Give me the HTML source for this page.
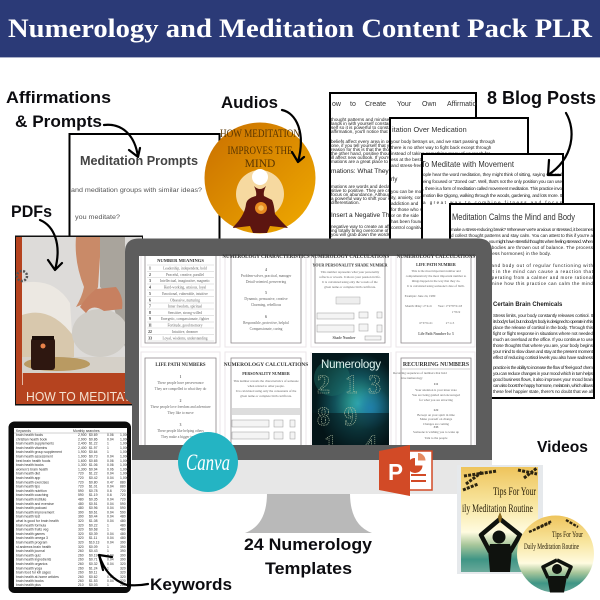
<!DOCTYPE html>
<html><head><meta charset="utf-8"><style>
html,body{margin:0;padding:0;background:#fff}
svg{display:block}
.s{font-family:"Liberation Sans",sans-serif}
.l{font-family:"Liberation Sans",sans-serif;font-weight:700;fill:#0c0c10}
.f{font-family:"Liberation Serif",serif}
.p{font-family:"Liberation Sans",sans-serif;font-size:4.6px;fill:#222}
.h{font-family:"Liberation Serif",serif;font-weight:700;fill:#333;text-anchor:middle}
.t{font-family:"Liberation Serif",serif;font-size:3.6px;fill:#666;text-anchor:middle}
.u{font-size:3.2px}
.k tspan{font-family:"Liberation Sans",sans-serif}
.a{fill:none;stroke:#000;stroke-width:2.2;stroke-linecap:round;stroke-linejoin:round}
.c{fill:none;stroke:#8a8488;stroke-width:.8}
.b{fill:none;stroke:#2c2410;stroke-width:3;stroke-dasharray:3 1.2}
</style></head><body>
<svg xmlns="http://www.w3.org/2000/svg" width="600" height="600" viewBox="0 0 600 600">
<defs>
<linearGradient id="disc" x1="0" y1="0" x2="1" y2="1"><stop offset="0" stop-color="#c96f00"/><stop offset="1" stop-color="#f0ab00"/></linearGradient>
<linearGradient id="cov" x1="0" y1="0" x2="0" y2="1"><stop offset="0" stop-color="#eec45c"/><stop offset=".35" stop-color="#f8e6a0"/><stop offset=".62" stop-color="#fffbe0"/><stop offset=".74" stop-color="#a9c79b"/><stop offset=".88" stop-color="#3f9585"/><stop offset="1" stop-color="#6aa99a"/></linearGradient>
<radialGradient id="neb" cx=".6" cy=".55" r=".55"><stop offset="0" stop-color="#35b5a8"/><stop offset=".55" stop-color="#11515a"/><stop offset="1" stop-color="#04181c"/></radialGradient>
<radialGradient id="neb2" cx=".5" cy=".5" r=".5"><stop offset="0" stop-color="#1f7fb5" stop-opacity=".8"/><stop offset="1" stop-color="#1f7fb5" stop-opacity="0"/></radialGradient>
</defs>

<rect width="600" height="57" fill="#2b3a77"/>
<rect y="57" width="600" height="1" fill="#aab0c8"/>
<text x="8" y="37" class="f" font-weight="700" font-size="26" fill="#fff" textLength="584" lengthAdjust="spacingAndGlyphs">Numerology and Meditation Content Pack  PLR</text>

<rect x="69.500" y="134" width="150" height="110" fill="#fff" stroke="#000" stroke-width="2"/>
<text x="80" y="165" class="s" font-weight="700" font-size="13" fill="#444" textLength="118" lengthAdjust="spacingAndGlyphs">Meditation Prompts</text>
<text x="71" y="192" class="s" font-size="6.600" fill="#555" textLength="131" lengthAdjust="spacingAndGlyphs">and meditation groups with similar ideas?</text>
<text x="75" y="219" class="s" font-size="6.600" fill="#555" textLength="45" lengthAdjust="spacingAndGlyphs">you meditate?</text>

<svg x="329" y="92" width="148" height="160"><rect x="1" y="1" width="146" height="170" fill="#fff" stroke="#000" stroke-width="2"/>
<g class="s" font-size="7" fill="#333"><text x="3" y="14">ow</text><text x="21" y="14">to</text><text x="36" y="14">Create</text><text x="68" y="14">Your</text><text x="93" y="14">Own</text><text x="118" y="14">Affirmations</text></g>
<g class="p"><text x="2" y="29">thought patterns and mindset are</text><text x="2" y="33">lands in with yourself constantly</text><text x="2" y="37">self so it is powerful to constantly</text><text x="2" y="41">affirmation, you'll notice that your</text><text x="2" y="51">beliefs affect every area in our lives</text><text x="2" y="55">one, if you tell yourself that you</text><text x="2" y="59">reason for this is that the thought</text><text x="2" y="63">the other hand, positive thoughts</text><text x="2" y="67">ill affect new outlook. If you're</text><text x="2" y="71">mations are a great place to start</text>
<text x="2" y="81" font-size="6.500">mations: What They Ar</text><text x="2" y="96">mations are words and declarations</text><text x="2" y="100">sitive to positive. They are created</text><text x="2" y="104">focus on abundance. Although not</text><text x="2" y="108">a powerful way to shift your state</text><text x="2" y="112">differentiation.</text>
<text x="2" y="125" font-size="6.500">Insert a Negative Thought to</text><text x="2" y="136">negative way to create an affirmation</text><text x="2" y="140">ing totally bring overcome of creating</text><text x="2" y="144">you will grab down the words</text></g></svg>

<svg x="389" y="117" width="140" height="130"><rect x="1" y="1" width="138" height="150" fill="#fff" stroke="#000" stroke-width="2"/>
<text x="3" y="15" class="s" font-size="7.300" fill="#333">itation Over Medication</text>
<g class="p"><text x="2" y="26">your body betrays us, and we start passing through</text><text x="2" y="32">there is no other way to fight back except through</text><text x="2" y="38">instead of taking something many of us reach for</text><text x="2" y="44">ess at the best times, leaving us with little choice</text><text x="2" y="50">and stress-free life is possible for everyone.</text>
<text x="2" y="64" font-size="6">rly</text><text x="2" y="76">you can be more relaxed</text><text x="2" y="82">ity, anxiety, concentration</text><text x="2" y="88">addiction and</text><text x="2" y="94">for those who suffer</text><text x="2" y="100">or on the side</text><text x="2" y="106">has been found</text><text x="2" y="112">control cognitive</text></g></svg>

<svg x="421" y="153" width="143" height="90"><rect x="1" y="1" width="141" height="110" fill="#fff" stroke="#000" stroke-width="2"/>
<text x="0" y="14" class="s" font-size="8.400" fill="#333" textLength="93" lengthAdjust="spacingAndGlyphs">To Meditate with Movement</text>
<g class="p"><text x="2" y="23" textLength="139">ople hear the word meditation, they might think of sitting, saying Om and</text><text x="2" y="30" textLength="139">eing focused or "Zoned out". Well, that's not the only position you can use</text><text x="2" y="37" textLength="139">, there is a form of meditation called movement meditation. This practice invo</text><text x="2" y="44" textLength="139">motion like Qigong, walking through the woods, gardening, and lots more. It</text><text x="2" y="51" textLength="139">a great way to combine fitness and focus</text></g></svg>

<svg x="449" y="203" width="146" height="196"><rect x="1" y="1" width="144" height="194" fill="#fff" stroke="#000" stroke-width="2"/>
<text x="3" y="17" class="s" font-size="8.800" fill="#333" textLength="123" lengthAdjust="spacingAndGlyphs">Meditation Calms the Mind and Body</text>
<g class="p"><text x="2" y="28" textLength="142">make a stress-reducing break? Whenever we're anxious or stressed, it becomes</text><text x="2" y="34" textLength="142">d collect thought patterns and stay calm. You can attest to this if you're a</text><text x="2" y="40" textLength="142">ng offered the practice, you might have stressful thoughts when feeling stressed. When</text><text x="2" y="46" textLength="142">hypertension, and bodies are thrown out of balance. The process</text><text x="2" y="52" textLength="100">set (the primary stress hormones) in the body.</text>
<text x="2" y="64" textLength="142">rock your brain and body out of regular functioning with</text><text x="2" y="70" textLength="142">nfusions thought in the mind can cause a reaction that</text><text x="2" y="76" textLength="142">u want to start operating from a calmer and more rational</text><text x="2" y="82" textLength="142">adopt. Let's examine how this practice can calm the mind</text>
<text x="44" y="103" font-size="6" font-weight="700">Certain Brain Chemicals</text>
<text x="44" y="114" textLength="100">Stress limits, your body constantly releases cortisol. It</text><text x="44" y="120" textLength="100">its body's fuel, but nobody's body is designed to operate in this</text><text x="44" y="126" textLength="100">place the release of cortisol in the body. Through this</text><text x="44" y="132" textLength="100">fight or flight response in situations where not needed</text><text x="44" y="138" textLength="100">much as overload at the office. If you continue to use</text><text x="44" y="144" textLength="100">those thoughts that where you are, your body begins</text><text x="44" y="150" textLength="100">your mind to slow down and stay at the present moment</text><text x="44" y="156" textLength="100">effect of reducing cortisol levels you also have sadness</text>
<text x="44" y="166" textLength="100">practice is the ability to increase the flow of 'feel-good' chem</text><text x="44" y="172" textLength="100">you can reduce changes in your mood which in turn helps</text><text x="44" y="178" textLength="100">good business flows, it also improves your mood brain</text><text x="44" y="184" textLength="100">can also boost the happy hormone, melatonin, which allows</text><text x="44" y="190" textLength="100">these feel happier state, there's no doubt that we all</text></g></svg>

<circle cx="260" cy="178" r="55.500" fill="url(#disc)"/>
<circle cx="260" cy="194" r="24" fill="#f6d9a0"/>
<circle cx="260" cy="177" r="8" fill="#fff"/>
<path d="M254 186 Q257 192 256 196 Q247 198 246 204 Q245 214 236 224 Q233 227 233 228 L250 226 L253 233 L267 233 L270 226 L288 228 Q280 220 275 214 Q274 204 272 200 Q266 197 264 196 Q263 192 266 186 Q260 192 254 186Z" fill="#5c1510"/>
<circle cx="261" cy="208" r="6" fill="#e88a20"/><circle cx="261" cy="208" r="2.800" fill="#f6c060"/>
<g class="f" font-size="11.500" fill="#5a3600" text-anchor="middle">
<text x="260" y="137" textLength="80" lengthAdjust="spacingAndGlyphs">HOW MEDITATION</text>
<text x="260" y="154" textLength="65" lengthAdjust="spacingAndGlyphs">IMPROVES THE</text>
<text x="260" y="167">MIND</text></g>

<rect x="15" y="235.500" width="128" height="170" fill="#111"/>
<svg x="16" y="237" width="126" height="167">
<rect width="126" height="167" fill="#dddbd9"/>
<rect x="0" width="6" height="167" fill="#b5431f"/>
<path d="M6 46 Q38 40 54 66 L56 96 L6 80Z" fill="#ece8e2"/>
<path d="M6 78 Q35 68 58 100 L58 122 L6 128Z" fill="#d8c8ad"/>
<path d="M84 0 L109 0 L109 110 L95 60 L84 50Z" fill="#a9a49c"/>
<path d="M60 0 L84 0 L84 20 L82 50 L78 60 L72 65 L60 70 Q66 60 68 50 Q58 25 60 0Z" fill="#c98a68"/>
<ellipse cx="84" cy="96" rx="28" ry="24" fill="#cfccc6"/>
<path d="M64 70 Q70 60 80 52 L100 50 Q108 60 106 72 L88 74 Q76 66 70 76Z" fill="#c78060"/>
<rect x="6" y="120" width="120" height="16" fill="#d5d0c8"/>
<ellipse cx="41" cy="127" rx="33" ry="7" fill="#b99a62"/>
<rect x="15" y="101" width="24" height="32" rx="3" fill="#2e1710"/>
<rect x="16" y="99" width="22" height="4" fill="#1c0f0a"/>
<circle cx="27" cy="109" r="2.500" fill="#e9824a"/>
<rect x="6" y="136" width="120" height="31" fill="#b5431f"/>
<rect x="6" y="136" width=".8" height="12" fill="#f0d8c8"/>
<text x="10" y="164" class="s" font-size="13" fill="#f5e2d0" textLength="113" lengthAdjust="spacingAndGlyphs">HOW TO MEDITATE</text>
</svg>
<circle cx="22" cy="276" r="5" fill="none" stroke="#555" stroke-width="2.500" stroke-dasharray="2 1.500"/>

<path d="M267 493 L350 493 Q350 525 372 533 L245 533 Q267 525 267 493Z" fill="#b9b9b9"/>
<path d="M125 252 Q125 238.500 139 238.500 L478 238.500 Q492 238.500 492 252 L492 460 L132 460 L132 404 L125 398Z" fill="#5d5d5d"/>
<rect x="132" y="460" width="360" height="34" fill="#e7e7e7"/>
<rect x="139" y="256" width="337" height="189" fill="#fff"/>
<g stroke="#ebe6e8" stroke-width="1" fill="none">
<path d="M141 256V347H220V256M225 256V347H306V256M311 256V347H391V256M396 256V347H475V256"/>
<path d="M141 445V352H220V445M225 445V352H306V445M311 445V352M391 445V352M396 445V352H475V445"/>
</g>

<path class="c" d="M145 256V343H216V256"/>
<text x="180.500" y="262" class="h" font-size="4.600">NUMBER MEANINGS</text>
<g stroke="#bbb" stroke-width=".4"><path d="M147 265H214M147 271.500H214M147 277.500H214M147 284H214M147 290H214M147 296.500H214M147 303H214M147 309H214M147 315.500H214M147 322H214M147 328H214M147 334.500H214M147 341H214"/></g>
<g class="t">
<text x="185" y="269.500">Leadership, independent, bold</text><text x="185" y="276">Peaceful, creative, parallel</text><text x="185" y="282">Intellectual, imaginative, magnetic</text><text x="185" y="288.500">Hard-working, anxious, loyal</text><text x="185" y="295">Emotional, vulnerable, intuitive</text><text x="185" y="301.500">Obsessive, nurturing</text><text x="185" y="307.500">Inner freedom, spiritual</text><text x="185" y="314">Sensitive, strong-willed</text><text x="185" y="320">Energetic, compassionate, fighter</text><text x="185" y="326.500">Fortitude, good memory</text><text x="185" y="333">Intuitive, dreamer</text><text x="185" y="339.500">Loyal, wisdoms, understanding</text>
</g>
<g font-family="Liberation Serif" font-weight="700" font-size="3.800" fill="#333" text-anchor="middle"><text x="150" y="269.500">1</text><text x="150" y="276">2</text><text x="150" y="282">3</text><text x="150" y="288.500">4</text><text x="150" y="295">5</text><text x="150" y="301.500">6</text><text x="150" y="307.500">7</text><text x="150" y="314">8</text><text x="150" y="320">9</text><text x="150" y="326.500">11</text><text x="150" y="333">22</text><text x="150" y="339.500">33</text></g>

<path class="c" d="M231 256V343H301V256"/>
<text x="266" y="258" class="h" font-size="5">NUMEROLOGY CHARACTERISTICS</text>
<g class="t"><text x="266" y="271" font-weight="700">4</text><text x="266" y="277">Problem-solver, practical, manager</text><text x="266" y="283">Detail-oriented, persevering</text><text x="266" y="294" font-weight="700">5</text><text x="266" y="300">Dynamic, persuasive, creative</text><text x="266" y="306">Charming, rebellious</text><text x="266" y="318" font-weight="700">6</text><text x="266" y="324">Responsible, protective, helpful</text><text x="266" y="330">Compassionate, caring</text></g>

<path class="c" d="M315 256V343H385V256"/>
<text x="350" y="258" class="h" font-size="5">NUMEROLOGY CALCULATIONS</text>
<text x="350" y="266.500" class="h" font-size="4">YOUR PERSONALITY SHADE NUMBER</text>
<g class="t u"><text class="t u" x="350" y="273">This number represents what your personality</text><text class="t u" x="350" y="278">reflects or reveals. It shows your passion in life.</text><text class="t u" x="350" y="283">It is calculated using only the vowels of the</text><text class="t u" x="350" y="288">given name or complete birth certificate.</text></g>
<rect x="336" y="297" width="24" height="7" fill="#eee" stroke="#999" stroke-width=".4"/>
<g fill="#f4f4f4" stroke="#999" stroke-width=".5"><rect x="317" y="313" width="37" height="6"/><rect x="359" y="312" width="9" height="6"/><rect x="377" y="312" width="5" height="6"/><rect x="317" y="325" width="37" height="7"/><rect x="359" y="324" width="9" height="7"/><rect x="377" y="325" width="5" height="7"/><rect x="365" y="336" width="16" height="4"/></g>
<text x="344" y="339" class="t" font-weight="700">Shade Number</text>

<path class="c" d="M401 256V343H471V256"/>
<text x="436" y="258" class="h" font-size="5">NUMEROLOGY CALCULATIONS</text>
<text x="436" y="266" class="h" font-size="4">LIFE PATH NUMBER</text>
<g><text class="t u" x="436" y="272">This is the most important number and</text><text class="t u" x="436" y="277">comprehensively the most important number to</text><text class="t u" x="436" y="282">things happen in the way that they do.</text><text class="t u" x="436" y="287">It is calculated using someone's date of birth.</text>
<text class="t u" x="420" y="297">Example: June 24, 1980</text><text class="t u" x="411" y="307">Month: 6</text><text class="t u" x="424" y="307">Day: 2+4=6</text><text class="t u" x="450" y="307">Year: 1+9+8+0=18</text><text class="t u" x="456" y="313">1+8=9</text><text class="t u" x="426" y="324">6+6+9=21</text><text class="t u" x="450" y="324">2+1=3</text></g>
<text x="436" y="335" class="t" font-weight="700">Life Path Number Is: 3</text>

<path class="c" d="M145 445V358H216V445"/>
<text x="180.500" y="366" class="h" font-size="4.800">LIFE PATH NUMBERS</text>
<g class="t"><text x="180.500" y="378" font-weight="700">1</text><text x="180.500" y="384">These people have perseverance</text><text x="180.500" y="390">They are compelled to what they do</text><text x="180.500" y="402" font-weight="700">2</text><text x="180.500" y="408">These people love freedom and adventure</text><text x="180.500" y="414">They like to move</text><text x="180.500" y="426" font-weight="700">3</text><text x="180.500" y="432">These people like helping others</text><text x="180.500" y="438">They make a bigger impact</text></g>

<path class="c" d="M231 445V358H301V445"/>
<text x="266" y="366" class="h" font-size="5.400">NUMEROLOGY CALCULATIONS</text>
<text x="266" y="375" class="h" font-size="4">PERSONALITY NUMBER</text>
<g><text class="t u" x="266" y="382">This number reveals the characteristics of someone</text><text class="t u" x="266" y="387">when related to other people.</text><text class="t u" x="266" y="392">It is calculated using only the consonants of the</text><text class="t u" x="266" y="397">given name or complete birth certificate.</text></g>
<rect x="232" y="408" width="68" height="7" fill="#ddd"/>
<g fill="#f4f4f4" stroke="#999" stroke-width=".5"><rect x="232" y="420" width="37" height="7"/><rect x="274" y="420" width="9" height="7"/><rect x="290" y="420" width="5" height="7"/><rect x="232" y="432" width="37" height="7"/><rect x="274" y="432" width="9" height="7"/><rect x="290" y="432" width="5" height="7"/></g>

<svg x="312" y="353" width="77" height="92"><rect width="77" height="92" fill="url(#neb)"/><circle cx="58" cy="55" r="22" fill="url(#neb2)"/><circle cx="20" cy="25" r="18" fill="#1c6f66" opacity=".45"/><rect y="60" width="77" height="32" fill="#041012" opacity=".5"/>
<text x="9" y="15" font-family="Liberation Sans" font-size="11.500" fill="#dff3ef" textLength="60">Numerology</text>
<g font-family="Liberation Serif" font-weight="700" fill="none" stroke="#b8c8a8" stroke-width=".6" stroke-dasharray="1.200 .8" font-size="26"><text x="5" y="40">2</text><text x="33" y="40">1</text><text x="56" y="40">3</text><text x="5" y="72">8</text><text x="32" y="72">9</text><text x="12" y="100">1</text><text x="52" y="100">4</text></g></svg>

<path class="c" d="M401 445V358H471V445"/>
<text x="436" y="366" class="h" font-size="5.800">RECURRING NUMBERS</text>
<path d="M402 369H470" stroke="#999" stroke-width=".5"/>
<g><text class="t u" x="420" y="374">Recurring sequences of numbers that hold</text><text class="t u" x="412" y="379">true numerology</text><text class="t u" x="436" y="385" font-weight="700">111</text><text class="t u" x="436" y="391">Your attention is your inner state</text><text class="t u" x="436" y="396">You are being guided and encouraged</text><text class="t u" x="436" y="401">for what you are attracting</text><text class="t u" x="436" y="411" font-weight="700">222</text><text class="t u" x="436" y="416">Be kept on your spirit in time</text><text class="t u" x="436" y="420">Make yourself on change</text><text class="t u" x="436" y="425">Changes are coming</text><text class="t u" x="436" y="428" font-weight="700">333</text><text class="t u" x="436" y="433">Someone is wishing you to wake up</text><text class="t u" x="436" y="439">Talk to the people</text></g>

<circle cx="208" cy="462" r="30" fill="#24b4c3"/>
<text x="208" y="470" class="f" font-style="italic" font-size="23" fill="#fff" text-anchor="middle" textLength="44" lengthAdjust="spacingAndGlyphs">Canva</text>

<rect x="409" y="451" width="23" height="39" fill="#fff" stroke="#d24a26" stroke-width="1.500"/>
<path d="M415 458a7.500 7.500 0 1 0 7.500 7.500h-7.500z" fill="#d24a26"/>
<path d="M418 453a7.500 7.500 0 0 1 7.500 7.500h-7.500z" fill="#e58a60"/>
<rect x="411" y="474" width="15" height="2" fill="#d24a26"/><rect x="411" y="480" width="15" height="2" fill="#d24a26"/>
<path d="M379 451 L410 445 L410 496 L379 490Z" fill="#d24a26"/>
<text x="388" y="480" class="s" font-weight="700" font-size="23" fill="#fff" textLength="15" lengthAdjust="spacingAndGlyphs">P</text>

<rect x="457" y="465" width="86" height="109" fill="#e6e9ec"/>
<rect x="461" y="467" width="77" height="105" fill="url(#cov)"/>
<path class="b" d="M464 476 L497 471 M466 484 L482 472 M463 490 L478 484 M518 470 L537 474 M524 478 L537 468"/>
<text x="493" y="495" class="f" font-size="11.500" fill="#2a2008" textLength="43" lengthAdjust="spacingAndGlyphs">Tips For Your</text>
<text x="462" y="512" class="f" font-size="11.500" fill="#2a2008" textLength="71" lengthAdjust="spacingAndGlyphs">ily Meditation Routine</text>
<path d="M500 519 L481 535 L490 552 M500 519 L520 535 L510 552" fill="none" stroke="#0f120e" stroke-width="4.500" stroke-linejoin="round"/>
<path d="M498 517 L500 512 L502 517 L501 522 L499 522Z" fill="#8a6a20"/>
<circle cx="499" cy="537" r="6.500" fill="#0f120e"/>
<path d="M488 549 L512 549 L510 572 L490 572Z" fill="#0f120e"/>
<path d="M490 544 L510 544 L512 552 L488 552Z" fill="#0f120e"/>
<circle cx="555.500" cy="554" r="38.500" fill="url(#cov)"/>
<path class="b" d="M529 532 L550 523 M537 528 L552 521 M566 520 L578 527" style="stroke-width:2.400"/>
<text x="552" y="537" class="f" font-size="8" fill="#2a2008" textLength="31" lengthAdjust="spacingAndGlyphs">Tips For Your</text>
<text x="524" y="549" class="f" font-size="8" fill="#2a2008" textLength="55" lengthAdjust="spacingAndGlyphs">Daily Meditation Routine</text>
<path d="M557 560 L543 567 L548 578 M557 560 L571 567 L566 578" fill="none" stroke="#0f120e" stroke-width="3.500" stroke-linejoin="round"/>
<circle cx="557" cy="569" r="5" fill="#0f120e"/>
<path d="M547 576 L567 576 L564 592.500 L550 592.500Z" fill="#0f120e"/>
<text x="537" y="452" class="l" font-size="15.500" fill="#1a1a24" textLength="51" lengthAdjust="spacingAndGlyphs">Videos</text>

<rect x="8.500" y="421.500" width="122.500" height="171.500" rx="6" fill="#0b0b0b"/>
<rect x="14" y="428" width="113" height="159" fill="#fff"/>
<path d="M14 433H127" stroke="#888" stroke-width=".4"/>
<g class="k" font-size="3.400" fill="#333">
<text y="432"><tspan x="16">Keywords</tspan><tspan x="73">Monthly searches</tspan></text>
<text y="436"><tspan x="16">brain health foods</tspan><tspan x="78">2,900</tspan><tspan x="89">$0.69</tspan><tspan x="107">0.06</tspan><tspan x="120">1,000</tspan></text>
<text y="440.300"><tspan x="16">christian health book</tspan><tspan x="78">2,900</tspan><tspan x="89">$0.86</tspan><tspan x="107">0.04</tspan><tspan x="120">1,000</tspan></text>
<text y="444.600"><tspan x="16">brain health supplements</tspan><tspan x="78">2,400</tspan><tspan x="89">$1.22</tspan><tspan x="107">1</tspan><tspan x="120">1,000</tspan></text>
<text y="448.900"><tspan x="16">brain health vitamins</tspan><tspan x="78">2,400</tspan><tspan x="89">$1.97</tspan><tspan x="107">1</tspan><tspan x="120">1,000</tspan></text>
<text y="453.200"><tspan x="16">brain health group supplement</tspan><tspan x="78">1,900</tspan><tspan x="89">$0.64</tspan><tspan x="107">1</tspan><tspan x="120">1,000</tspan></text>
<text y="457.500"><tspan x="16">brain health assessment</tspan><tspan x="78">1,900</tspan><tspan x="89">$0.73</tspan><tspan x="107">0.04</tspan><tspan x="120">1,000</tspan></text>
<text y="461.800"><tspan x="16">best brain health foods</tspan><tspan x="78">1,600</tspan><tspan x="89">$0.65</tspan><tspan x="107">0.06</tspan><tspan x="120">1,000</tspan></text>
<text y="466.100"><tspan x="16">brain health books</tspan><tspan x="78">1,300</tspan><tspan x="89">$1.06</tspan><tspan x="107">0.06</tspan><tspan x="120">1,000</tspan></text>
<text y="470.400"><tspan x="16">women's brain health</tspan><tspan x="78">1,300</tspan><tspan x="89">$0.94</tspan><tspan x="107">0.06</tspan><tspan x="120">1,000</tspan></text>
<text y="474.700"><tspan x="16">brain health diet</tspan><tspan x="78">720</tspan><tspan x="89">$1.22</tspan><tspan x="107">0.04</tspan><tspan x="120">1,000</tspan></text>
<text y="479"><tspan x="16">brain health app</tspan><tspan x="78">720</tspan><tspan x="89">$0.42</tspan><tspan x="107">0.04</tspan><tspan x="120">1,000</tspan></text>
<text y="483.300"><tspan x="16">brain health exercises</tspan><tspan x="78">720</tspan><tspan x="89">$0.80</tspan><tspan x="107">0.47</tspan><tspan x="120">880</tspan></text>
<text y="487.600"><tspan x="16">brain health tips</tspan><tspan x="78">720</tspan><tspan x="89">$1.01</tspan><tspan x="107">0.04</tspan><tspan x="120">880</tspan></text>
<text y="491.900"><tspan x="16">brain health nutrition</tspan><tspan x="78">590</tspan><tspan x="89">$0.78</tspan><tspan x="107">0.6</tspan><tspan x="120">720</tspan></text>
<text y="496.200"><tspan x="16">brain health coaching</tspan><tspan x="78">590</tspan><tspan x="89">$1.19</tspan><tspan x="107">0.6</tspan><tspan x="120">720</tspan></text>
<text y="500.500"><tspan x="16">brain health institute</tspan><tspan x="78">480</tspan><tspan x="89">$0.35</tspan><tspan x="107">0.04</tspan><tspan x="120">720</tspan></text>
<text y="504.800"><tspan x="16">brain health and exercise</tspan><tspan x="78">480</tspan><tspan x="89">$0.51</tspan><tspan x="107">0.04</tspan><tspan x="120">590</tspan></text>
<text y="509.100"><tspan x="16">brain health podcast</tspan><tspan x="78">480</tspan><tspan x="89">$0.96</tspan><tspan x="107">0.04</tspan><tspan x="120">590</tspan></text>
<text y="513.400"><tspan x="16">brain health improvement</tspan><tspan x="78">390</tspan><tspan x="89">$0.61</tspan><tspan x="107">0.04</tspan><tspan x="120">590</tspan></text>
<text y="517.700"><tspan x="16">brain health test</tspan><tspan x="78">390</tspan><tspan x="89">$0.44</tspan><tspan x="107">0.04</tspan><tspan x="120">480</tspan></text>
<text y="522"><tspan x="16">what is good for brain health</tspan><tspan x="78">320</tspan><tspan x="89">$1.08</tspan><tspan x="107">0.04</tspan><tspan x="120">480</tspan></text>
<text y="526.300"><tspan x="16">brain health formula</tspan><tspan x="78">320</tspan><tspan x="89">$0.22</tspan><tspan x="107">1</tspan><tspan x="120">480</tspan></text>
<text y="530.600"><tspan x="16">brain health fruits veg</tspan><tspan x="78">320</tspan><tspan x="89">$0.68</tspan><tspan x="107">1</tspan><tspan x="120">480</tspan></text>
<text y="534.900"><tspan x="16">brain health games</tspan><tspan x="78">320</tspan><tspan x="89">$0.39</tspan><tspan x="107">0.04</tspan><tspan x="120">480</tspan></text>
<text y="539.200"><tspan x="16">brain health omega 3</tspan><tspan x="78">320</tspan><tspan x="89">$1.11</tspan><tspan x="107">0.04</tspan><tspan x="120">480</tspan></text>
<text y="543.500"><tspan x="16">brain health program</tspan><tspan x="78">320</tspan><tspan x="89">$10.13</tspan><tspan x="107">0.04</tspan><tspan x="120">390</tspan></text>
<text y="547.800"><tspan x="16">st andrews brain health</tspan><tspan x="78">320</tspan><tspan x="89">$0.09</tspan><tspan x="107">1</tspan><tspan x="120">390</tspan></text>
<text y="552.100"><tspan x="16">brain health journal</tspan><tspan x="78">260</tspan><tspan x="89">$0.43</tspan><tspan x="107">1</tspan><tspan x="120">390</tspan></text>
<text y="556.400"><tspan x="16">brain health quiz</tspan><tspan x="78">260</tspan><tspan x="89">$0.19</tspan><tspan x="107">0.04</tspan><tspan x="120">390</tspan></text>
<text y="560.700"><tspan x="16">brain health ingredients</tspan><tspan x="78">260</tspan><tspan x="89">$0.71</tspan><tspan x="107">0.04</tspan><tspan x="120">390</tspan></text>
<text y="565"><tspan x="16">brain health organics</tspan><tspan x="78">260</tspan><tspan x="89">$0.32</tspan><tspan x="107">0.04</tspan><tspan x="120">320</tspan></text>
<text y="569.300"><tspan x="16">brain health yoga</tspan><tspan x="78">260</tspan><tspan x="89">$1.24</tspan><tspan x="107">1</tspan><tspan x="120">320</tspan></text>
<text y="573.600"><tspan x="16">brain food for kill cages</tspan><tspan x="78">260</tspan><tspan x="89">$0.11</tspan><tspan x="107">1</tspan><tspan x="120">320</tspan></text>
<text y="577.900"><tspan x="16">brain health at-home articles</tspan><tspan x="78">260</tspan><tspan x="89">$0.62</tspan><tspan x="107">0.04</tspan><tspan x="120">320</tspan></text>
<text y="582.200"><tspan x="16">brain health books</tspan><tspan x="78">260</tspan><tspan x="89">$1.53</tspan><tspan x="107">0.04</tspan><tspan x="120">320</tspan></text>
<text y="586"><tspan x="16">brain health plus</tspan><tspan x="78">210</tspan><tspan x="89">$0.03</tspan><tspan x="107">1</tspan><tspan x="120">260</tspan></text>
</g>

<text x="6" y="103" class="l" font-size="17" textLength="105" lengthAdjust="spacingAndGlyphs">Affirmations</text>
<text x="15" y="127" class="l" font-size="17" textLength="87" lengthAdjust="spacingAndGlyphs">&amp; Prompts</text>
<text x="221" y="108" class="l" font-size="17" textLength="57" lengthAdjust="spacingAndGlyphs">Audios</text>
<text x="11" y="217" class="l" font-size="17" textLength="41" lengthAdjust="spacingAndGlyphs">PDFs</text>
<text x="487" y="104" class="l" font-size="18" textLength="109" lengthAdjust="spacingAndGlyphs">8 Blog Posts</text>
<text x="150" y="590" class="l" font-size="17" textLength="82" lengthAdjust="spacingAndGlyphs">Keywords</text>
<text x="244" y="550" class="l" font-size="17" textLength="128" lengthAdjust="spacingAndGlyphs">24 Numerology</text>
<text x="265" y="574" class="l" font-size="17" textLength="87" lengthAdjust="spacingAndGlyphs">Templates</text>

<path class="a" d="M104 125 C122 123 135 135 138 157 M129 150 L138 157 L140 148"/>
<path class="a" d="M282 110 C296 113 306 132 298 162 M292 152 L298 162 L304 157"/>
<path class="a" d="M40 220 C54 226 62 244 55 270 M48 260 L55 270 L62 263"/>
<path class="a" d="M566 113 C576 130 574 158 548 175 M549 160 L548 175 L560 175"/>
<path class="a" d="M148 584 Q138 586 127 585 C112 580 104 570 99 555 M112 557 L99 555 L103 570"/>
</svg>
</body></html>
